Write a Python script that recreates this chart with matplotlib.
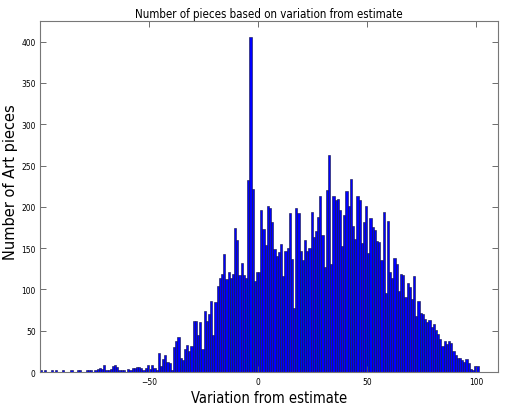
import numpy as np
import matplotlib
matplotlib.use("Agg")
import matplotlib.pyplot as plt
from matplotlib import font_manager

# variation bins (left edge), from -100 to 100
variation = np.arange(-100, 101)

left_tail = [2, 0, 2, 0, 0, 2, 0, 2, 0, 0,      # -100 .. -91
             2, 0, 0, 0, 2, 0, 0, 2, 2, 0,      # -90 .. -81
             0, 3, 2, 3, 0, 2, 4, 5, 4, 9,      # -80 .. -71
             2, 2, 4, 7, 8, 6, 2, 2, 2, 0,      # -70 .. -61
             4, 2, 5, 5, 6, 6, 5, 3, 5, 9]      # -60 .. -51
middle_left = [4, 8, 5, 3, 23, 7, 16, 20, 12, 11,          # -50 .. -41
               2, 30, 37, 42, 17, 14, 28, 33, 25, 31,      # -40 .. -31
               62, 62, 45, 60, 28, 74, 62, 70, 86, 45,     # -30 .. -21
               85, 104, 114, 119, 143, 113, 121, 114, 119, 174,  # -20 .. -11
               160, 117, 132, 117, 114, 232, 405, 222, 110, 121]  # -10 .. -1
middle_right = [121, 196, 173, 154, 201, 199, 181, 149, 141, 145,   # 0 .. 9
                155, 116, 147, 150, 192, 137, 77, 199, 193, 147,    # 10 .. 19
                136, 160, 147, 150, 194, 164, 171, 188, 213, 166,   # 20 .. 29
                127, 220, 263, 131, 213, 208, 209, 196, 153, 190,   # 30 .. 39
                219, 201, 234, 177, 161, 213, 208, 156, 181, 201]   # 40 .. 49
right_tail = [144, 186, 176, 172, 159, 157, 136, 194, 96, 183,      # 50 .. 59
              121, 114, 138, 131, 98, 119, 117, 91, 108, 103,       # 60 .. 69
              88, 116, 68, 86, 72, 70, 64, 60, 63, 55,              # 70 .. 79
              58, 51, 46, 40, 32, 37, 34, 37, 35, 26,               # 80 .. 89
              20, 17, 17, 15, 12, 16, 11, 4, 3, 7,                  # 90 .. 99
              7]                                                    # 100

counts = np.array(left_tail + middle_left + middle_right + right_tail)

# narrow face for title / ticks / xlabel if we have one
names = {f.name for f in font_manager.fontManager.ttflist}
narrow = "Liberation Sans Narrow" if "Liberation Sans Narrow" in names else "DejaVu Sans"
plt.rcParams['font.family'] = [narrow, 'DejaVu Sans']
plt.rcParams['font.stretch'] = 'condensed'

fig = plt.figure(figsize=(5.11, 4.14), dpi=100)
ax = fig.add_axes([0.078, 0.099, 0.897, 0.848])

ax.bar(variation, counts, width=1.0, align="edge", color="blue",
       edgecolor="#101040", linewidth=0.4)

ax.set_xlim(-100, 110)
ax.set_ylim(0, 425)
ax.set_xticks([-50, 0, 50, 100])
ax.set_yticks(np.arange(0, 401, 50))
ax.tick_params(direction="in", top=True, right=True, labelsize=6,
               length=4, width=0.6, color="#555555")
ax.tick_params(axis="y", pad=3)
for s in ax.spines.values():
    s.set_color("#777777")
    s.set_linewidth(0.8)

ax.set_title("Number of pieces based on variation from estimate", fontsize=8.3, pad=3)
ax.set_xlabel("Variation from estimate", fontsize=10.5, labelpad=3)
ax.set_ylabel("Number of Art pieces", fontsize=10.5, family="DejaVu Sans",
              stretch="normal")
ax.yaxis.set_label_coords(-0.047, 0.545)

fig.savefig("out.png", dpi=100)
